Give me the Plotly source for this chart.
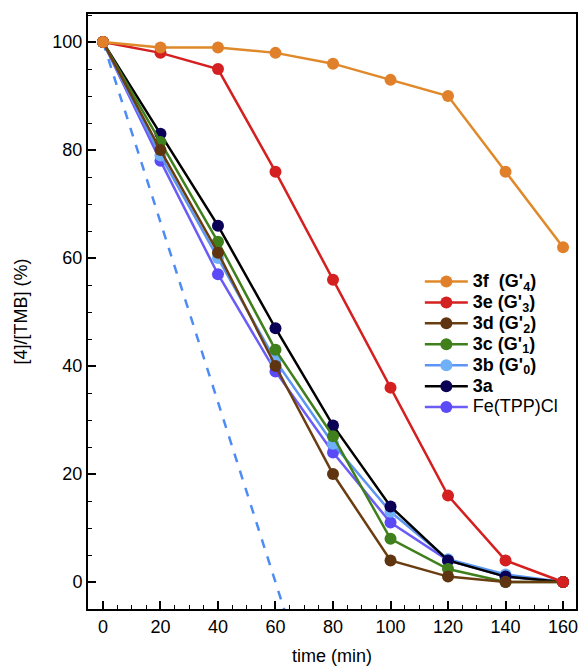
import plotly.graph_objects as go

# Reaction time (min)
time_min = [0, 20, 40, 60, 80, 100, 120, 140, 160]

# Remaining [4]/[TMB] (%) for each catalyst
y_3f = [100, 99, 99, 98, 96, 93, 90, 76, 62]
y_3e = [100, 98, 95, 76, 56, 36, 16, 4, 0]
y_3d = [100, 80, 61, 40, 20, 4, 1, 0, 0]
y_3c = [100, 81.5, 63, 43, 27, 8, 2.4, 0, 0]
y_3b = [100, 79, 60, 41, 25.6, 13, 4.2, 1.4, 0]
y_3a = [100, 83, 66, 47, 29, 14, 4, 1, 0]
y_fe = [100, 78, 57, 39, 24, 11, 4, 1, 0]

# Reference linear decay (dashed)
ref_x = [0, 64]
ref_y = [100, -6.7]

FONT = "Liberation Sans, Arial, Helvetica, sans-serif"


def label(txt):
    # larger label text inside a compact legend row
    return '<span style="font-size:18px">' + txt + "</span>"


series = [
    # name, values, line colour, marker colour, legend rank
    ("Fe(TPP)Cl", y_fe, "#6B5CF5", "#5B4BF7", 7),
    ("<b>3b (G'<sub>0</sub>)</b>", y_3b, "#5C95F2", "#6FB0F8", 5),
    ("<b>3a</b>", y_3a, "#000000", "#0A0055", 6),
    ("<b>3c (G'<sub>1</sub>)</b>", y_3c, "#3F7F1C", "#3F7F1C", 4),
    ("<b>3d (G'<sub>2</sub>)</b>", y_3d, "#6B3E12", "#5E3510", 3),
    ("<b>3e (G'<sub>3</sub>)</b>", y_3e, "#D42020", "#D42020", 2),
    ("<b>3f  (G'<sub>4</sub>)</b>", y_3f, "#E0892A", "#E0802A", 1),
]

fig = go.Figure()

fig.add_trace(go.Scatter(
    x=ref_x, y=ref_y, mode="lines",
    line=dict(color="#4D8CF5", width=2.5, dash="dash"),
    showlegend=False, hoverinfo="skip",
))

for name, vals, lc, mc, rank in series:
    fig.add_trace(go.Scatter(
        x=time_min, y=vals, name=label(name), mode="lines+markers",
        line=dict(color=lc, width=2.5),
        marker=dict(color=mc, size=12),
        legendrank=rank,
    ))

axis_common = dict(
    showline=True, linecolor="black", linewidth=2, mirror=True,
    ticks="inside", ticklen=8, tickwidth=1.5, tickcolor="black",
    showgrid=False, zeroline=False,
    tickfont=dict(family=FONT, size=18, color="black"),
)

fig.update_xaxes(
    range=[-5.2, 164.5], tickmode="array", tickvals=[0, 20, 40, 60, 80, 100, 120, 140, 160],
    minor=dict(ticks="inside", ticklen=4, tickwidth=1, tickcolor="black", dtick=5, tick0=0),
    title=dict(text="time (min)", font=dict(family=FONT, size=18, color="black"), standoff=14),
    **axis_common,
)
fig.update_yaxes(
    range=[-5.0, 105.2], tickmode="array", tickvals=[0, 20, 40, 60, 80, 100],
    minor=dict(ticks="inside", ticklen=4, tickwidth=1, tickcolor="black", dtick=5, tick0=0),
    title=dict(text="[4]/[TMB] (%)", font=dict(family=FONT, size=18, color="black"), standoff=20),
    **axis_common,
)

fig.update_layout(
    width=581, height=669,
    margin=dict(l=88, r=3, t=14, b=60),
    plot_bgcolor="white", paper_bgcolor="white",
    font=dict(family=FONT, color="black"),
    legend=dict(
        x=0.68, y=0.5765, xanchor="left", yanchor="top",
        bgcolor="rgba(0,0,0,0)", borderwidth=0,
        font=dict(family=FONT, size=13.8, color="black"),
        tracegroupgap=0, itemwidth=43,
    ),
)

fig.write_html("out.html")
